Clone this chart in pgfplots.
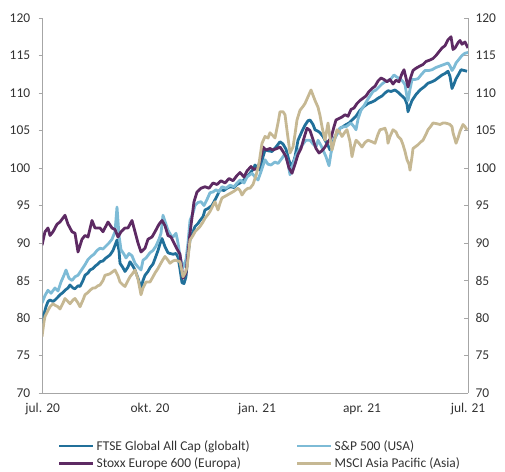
\documentclass[border=0pt]{standalone}
\usepackage{fontspec}
\setmainfont{Carlito}
\usepackage{pgfplots}
\pgfplotsset{compat=1.18}
\definecolor{cFTSE}{HTML}{21709A}
\definecolor{cSP}{HTML}{7DBBD6}
\definecolor{cStoxx}{HTML}{5D2A63}
\definecolor{cAsia}{HTML}{C6B893}
\definecolor{cAxis}{HTML}{A6A6A6}
\definecolor{cText}{HTML}{333333}
\begin{document}
\begin{tikzpicture}[x=1bp,y=1bp]
\useasboundingbox (0,0) rectangle (505,472);
\pgfplotsset{
  base/.style={
    at={(42.7bp,79bp)}, anchor=south west,
    scale only axis, width=425.3bp, height=375bp,
    xmin=42.7, xmax=468, ymin=70, ymax=120,
    ytick={70,75,...,120},
    /pgf/number format/assume math mode=true,
    tick label style={font=\fontsize{13.5}{15}\selectfont, text=cText},
    axis line style={cAxis, line width=0.9bp},
    tick style={cAxis, line width=0.9bp},
    major tick length=4bp,
  }
}
\begin{axis}[base,
  axis x line*=bottom, axis y line*=left,
  xtick={42.7,150,257,362,468},
  xticklabels={jul. 20,okt. 20,jan. 21,apr. 21,jul. 21},
  xtick style={draw=none},
  xticklabel style={yshift=-3bp},
  yticklabel style={xshift=-5bp},
  tick align=outside,
  legend columns=2,
  legend cell align=left,
  legend style={draw=none, fill=none, font=\fontsize{13.5}{15}\selectfont, text=cText,
    at={(axis description cs:0.028,-0.115)}, anchor=north west,
    /tikz/every even column/.append style={column sep=44bp},
    row sep=2bp},
  legend image code/.code={\draw[#1, line width=2.8bp] (0bp,0bp) -- (34bp,0bp);},
  every axis plot/.append style={line width=2.8bp, line join=round},
]
\addplot[cFTSE] coordinates {
(42,79.3)(44,80.5)(46,81.5)(48,82.2)(50,82.4)(53,82.2)(55,82.4)(58,82.8)(60,83.1)(63,83.4)(65,83.7)(68,84)(70,84.4)(73,84)(75,83.9)(78,84.3)(80,84.2)(83,85)(85,85.7)(88,86)(90,86.4)(93,86.6)(95,86.9)(98,87.2)(100,87.5)(103,87.6)(105,87.9)(108,88.2)(110,88.4)(113,89)(115,89.7)(117,90.4)(119,89)(120,87.3)(123,86.7)(125,86.2)(128,86.8)(130,87.5)(133,86.9)(135,86.4)(138,85.3)(141,84)(143,85)(145,85.7)(148,86.2)(150,86.7)(153,87.2)(155,87.9)(158,89)(160,89.9)(162,90.6)(165,89.5)(168,88.7)(170,88.6)(173,88.5)(176,88.6)(178,88.1)(180,86.5)(182,84.7)(184,84.6)(186,85.5)(188,88.5)(190,90.4)(193,91.5)(195,92.2)(198,92.6)(200,93)(203,93.5)(205,94.4)(208,94.6)(212,95)(216,96)(220,97.1)(224,97)(227,97.3)(230,97.5)(234,97.4)(237,97.8)(240,98)(244,98.4)(247,98.9)(250,99.3)(253,99.8)(255,100.4)(258,100)(260,99.7)(263,101.5)(265,102.4)(268,102.3)(272,102.2)(276,102.8)(280,103.5)(283,103.2)(286,102.5)(289,101)(292,100.2)(295,101.5)(298,103.7)(302,104.9)(305,105.7)(308,106.3)(310,106.4)(313,105.8)(315,105.1)(318,104.9)(320,104.7)(323,104.2)(325,103.7)(328,103)(330,102.4)(333,103.4)(335,104.2)(338,104.8)(340,105.3)(343,105.5)(345,105.7)(349,106)(352,106.4)(356,106.9)(360,107.7)(364,108.2)(368,108.6)(372,108.8)(375,109)(378,109.3)(382,109.6)(385,110)(388,110.3)(391,110.2)(395,110.4)(398,110.1)(402,109.6)(405,109.2)(407,108.5)(408,107.5)(410,108.3)(412,109)(416,109.8)(420,110.4)(424,110.8)(428,111.3)(432,111.5)(435,111.7)(438,112)(442,112.4)(445,112.6)(448,112.9)(450,112.2)(452,110.6)(454,111.2)(456,111.9)(459,112.6)(461,113.1)(464,113)(467,112.9)
};
\addlegendentry{FTSE Global All Cap (globalt)}
\addplot[cSP] coordinates {
(42,82)(45,83)(48,83.7)(51,83.3)(55,84)(58,83.6)(61,84.8)(64,85.7)(66,86.4)(69,85.3)(72,85)(75,85.5)(78,85.7)(81,86.3)(85,87.1)(88,87.8)(91,88.2)(94,88.5)(97,89)(100,89.3)(103,89.2)(106,89.6)(109,90)(112,90.5)(115,91.5)(117,94.8)(119,91)(121,89.1)(124,88.5)(126,88)(129,88.6)(132,88.3)(135,87.3)(138,86.8)(141,86.4)(143,87.7)(146,88)(150,88.7)(153,89)(156,89.6)(159,90.5)(161,91.3)(163,93.7)(166,92.5)(168,91.7)(171,91)(173,90.8)(176,91.3)(178,90)(180,88.2)(183,86.7)(186,87.8)(188,90)(190,93)(193,94)(195,95)(198,95.4)(201,95.5)(204,95)(207,95.8)(210,96.7)(213,96.8)(216,97.1)(219,96.8)(222,97.5)(226,97.3)(230,97.7)(234,97.5)(237,98)(240,98.4)(244,98)(247,98.8)(250,99.1)(252,99.3)(255,98.8)(258,98.4)(261,99.5)(265,101.1)(268,100.5)(271,100.4)(275,100.8)(278,100.6)(282,101.3)(285,101.9)(288,100.6)(290,99.1)(293,100.5)(296,101.7)(300,102.6)(303,103.2)(306,103.7)(310,103.7)(313,103.2)(316,102.8)(318,103.7)(321,103)(323,102.4)(326,101.5)(329,100.3)(331,102)(334,103.7)(337,104.5)(340,105.3)(343,105.5)(346,105.5)(349,105.8)(351,106)(354,105.5)(356,105.1)(358,106.5)(361,107.7)(364,108.3)(367,109)(370,109.6)(373,110.2)(376,110.4)(379,110.8)(382,111.2)(385,111.5)(388,111.6)(391,111.9)(394,112.4)(397,112.1)(400,111.9)(403,111.5)(405,111.1)(407,109.5)(408,109)(410,110.5)(412,111.8)(415,111.8)(418,111.9)(421,112.4)(425,113)(429,113)(432,113.1)(436,113.4)(440,113.6)(444,113.8)(448,114)(450,113.6)(452,113)(454,113.4)(456,114)(459,114.5)(462,115)(465,115.3)(468,115.4)
};
\addlegendentry{S\&P 500 (USA)}
\addplot[cStoxx] coordinates {
(42,89.7)(45,91.5)(48,92)(50,91)(53,91.5)(57,92.5)(60,92.8)(65,93.7)(68,92.5)(72,91.5)(75,91.3)(78,88.8)(82,90.5)(85,91)(88,90.8)(92,93)(95,92)(100,92)(103,91.5)(108,92.8)(112,92)(115,91.8)(118,90.8)(121,91.5)(125,92)(128,92)(132,93)(135,91.5)(138,90)(141,88.8)(145,89.3)(148,90.5)(152,90.8)(155,91.5)(159,92.5)(162,93)(165,92.3)(168,91)(171,90.8)(174,90)(177,89.2)(180,88.5)(183,85.3)(186,86)(190,91.3)(194,95.5)(197,96.8)(201,97.3)(205,97.5)(209,97.3)(213,98)(217,97.8)(221,98.3)(225,98)(229,98.6)(233,98.3)(237,99)(240,99.4)(244,98.8)(247,99.6)(251,100.2)(254,99.8)(258,100)(261,101.5)(263,102.8)(266,102.4)(270,102.6)(273,102.4)(277,102.6)(280,102.8)(283,102.2)(286,101.5)(289,100)(292,99.3)(295,100.5)(298,101.8)(301,102.6)(304,104)(307,105.3)(310,105)(313,103.8)(316,102.6)(319,102)(322,102.3)(325,102.8)(328,103.5)(331,104)(334,105.5)(336,106.4)(339,106.6)(342,106.8)(345,107.1)(348,106.9)(351,107.8)(354,108)(357,108.6)(360,109)(363,109.3)(366,109.6)(369,110.2)(372,110.6)(375,110.9)(378,111.6)(381,112)(384,111.8)(387,111.5)(390,111.8)(393,111.2)(396,111.7)(399,111.5)(402,112.6)(404,113.1)(406,112)(408,110.8)(410,111.8)(413,113)(416,113.3)(420,113.6)(423,113.8)(426,114.2)(430,114.4)(433,114.6)(436,115)(439,115.5)(442,116)(445,116.3)(448,117.1)(451,117.5)(453,115.8)(455,116)(458,116.7)(460,117)(462,116.5)(465,116.8)(468,116)
};
\addlegendentry{Stoxx Europe 600 (Europa)}
\addplot[cAsia] coordinates {
(42,77.5)(44,79.5)(45,80.2)(48,81)(50,81.5)(53,81.9)(55,81.7)(58,81.5)(60,81.2)(63,82)(65,82.6)(68,82.2)(70,81.9)(73,82.4)(75,82.6)(78,82)(80,81.5)(83,82.4)(85,83.1)(88,83.4)(90,83.7)(93,84)(95,84)(98,84.3)(100,84.4)(103,85)(105,85.7)(108,85.8)(110,85.9)(113,86.2)(115,86.4)(118,85.6)(120,84.8)(123,84.4)(125,84.2)(128,85)(130,85.5)(133,86)(135,86.4)(138,85.2)(141,83.1)(143,84)(146,84.8)(148,84.8)(150,84.8)(153,85.5)(155,86)(158,86.6)(160,87.1)(163,87.8)(165,88.2)(168,87.7)(170,87.3)(173,87.6)(175,87.7)(178,87.6)(180,87.5)(183,85.5)(185,86)(187,86.7)(190,90.4)(193,91)(195,91.5)(198,91.9)(200,92.2)(203,92.8)(205,93.3)(208,93.8)(210,94.2)(213,95)(215,95.5)(218,94.4)(220,95.3)(222,96)(226,96.3)(230,96.6)(234,96.9)(238,97.3)(240,97)(242,96.4)(245,97)(248,97.3)(250,97.3)(253,97.8)(256,99)(259,100.6)(262,103.3)(265,104.2)(268,104)(270,104.7)(273,104.3)(275,104)(278,106)(280,107.5)(283,107.5)(285,107.1)(287,105)(290,102)(293,102.8)(295,104.5)(297,106.4)(300,107.7)(303,108.2)(305,108.6)(308,109.5)(311,110.4)(313,109.7)(315,109)(318,108.1)(320,107)(322,105.5)(325,103.7)(328,106)(330,104)(332,102.4)(335,104)(337,105.1)(340,104.7)(342,104.2)(345,104.8)(347,105.1)(350,103.5)(352,101.5)(354,102.8)(356,103.7)(359,103.3)(362,102.8)(365,103.4)(368,103.7)(372,103.5)(375,103.3)(378,104.5)(380,105.1)(383,105.2)(385,105.3)(387,104.5)(388,103.3)(390,104.2)(393,105.1)(396,104.8)(398,104.2)(401,103.8)(403,103.1)(405,102.2)(407,101.1)(409,100.5)(410,99.7)(412,101.5)(413,102.6)(416,102.9)(418,103.1)(421,103.5)(423,103.7)(426,104.5)(428,105.1)(431,105.6)(433,106)(437,105.9)(440,105.8)(443,106)(445,106)(448,105.9)(450,105.8)(452,105.5)(453,104.7)(455,103.8)(456,103.3)(458,104)(460,104.9)(463,105.8)(465,105.5)(467,105.1)
};
\addlegendentry{MSCI Asia Pacific (Asia)}
\end{axis}
\begin{axis}[base,
  axis x line=none, axis y line*=right,
  tick align=inside,
  yticklabel style={xshift=4bp},
]
\end{axis}
\end{tikzpicture}
\end{document}
